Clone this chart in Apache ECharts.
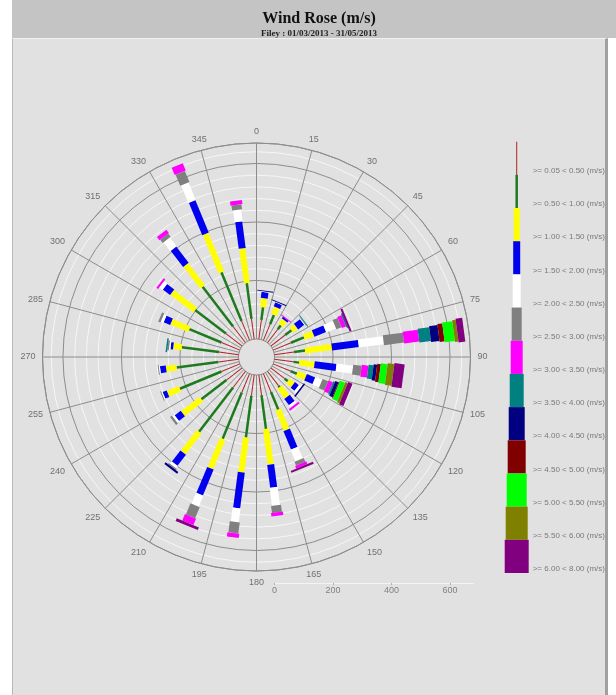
<!DOCTYPE html>
<html>
<head>
<meta charset="utf-8">
<title>Wind Rose</title>
<script src="https://cdn.jsdelivr.net/npm/echarts@6/dist/echarts.min.js"></script>
<style>
  html, body { margin: 0; padding: 0; background: #ffffff; }
  #header { position: absolute; left: 12px; top: 0; width: 604px; height: 38px; background: #c4c4c4; }
  #panel { position: absolute; left: 12px; top: 38px; width: 592px; height: 657px; background: #e1e1e1;
           border-left: 1px solid #b8b8b8; border-right: 3px solid #a0a0a0; border-top: 1px solid #f2f2f2; }
  #chart { position: absolute; left: 0; top: 0; width: 616px; height: 695px; }
</style>
</head>
<body>
<div id="header"></div>
<div id="panel"></div>
<div id="chart"></div>
<script>
// sector centres (degrees, clockwise from north)
const directions = [7.5, 22.5, 37.5, 52.5, 67.5, 82.5, 97.5, 112.5, 127.5, 142.5, 157.5, 172.5,
                    187.5, 202.5, 217.5, 232.5, 247.5, 262.5, 277.5, 292.5, 307.5, 322.5, 337.5, 352.5];

const classLabels = ['>= 0.05 < 0.50 (m/s)', '>= 0.50 < 1.00 (m/s)', '>= 1.00 < 1.50 (m/s)',
  '>= 1.50 < 2.00 (m/s)', '>= 2.00 < 2.50 (m/s)', '>= 2.50 < 3.00 (m/s)', '>= 3.00 < 3.50 (m/s)',
  '>= 3.50 < 4.00 (m/s)', '>= 4.00 < 4.50 (m/s)', '>= 4.50 < 5.00 (m/s)', '>= 5.00 < 5.50 (m/s)',
  '>= 5.50 < 6.00 (m/s)', '>= 6.00 < 8.00 (m/s)'];

// counts per sector for every speed class (same order as directions)
const v005to050 = [66, 60, 58, 62, 66, 68, 66, 64, 60, 62, 68, 70, 72, 70, 70, 68, 68, 70, 68, 68, 70, 70, 72, 70];
const v050to100 = [44, 34, 17, 27, 48, 38, 20, 24, 14, 7, 65, 116, 144, 171, 191, 108, 154, 144, 128, 119, 133, 171, 180, 123];
const v100to150 = [31, 27, 21, 20, 34, 92, 52, 32, 21, 41, 75, 123, 120, 109, 89, 80, 44, 36, 29, 66, 99, 94, 142, 120];
const v150to200 = [21, 15, 7, 26, 43, 92, 75, 31, 17, 27, 68, 79, 123, 96, 48, 26, 15, 20, 9, 24, 31, 70, 120, 92];
const v200to250 = [2, 2, 0, 3, 36, 86, 57, 25, 10, 10, 43, 62, 48, 41, 10, 8, 4, 4, 5, 10, 14, 38, 65, 41];
const v250to300 = [0, 0, 0, 2, 19, 69, 29, 21, 0, 0, 14, 24, 38, 41, 5, 8, 3, 3, 5, 8, 0, 14, 41, 17];
const v300to350 = [0, 0, 3, 0, 15, 52, 23, 16, 0, 7, 10, 12, 15, 24, 0, 0, 0, 0, 0, 0, 7, 14, 27, 14];
const v350to400 = [0, 0, 0, 3, 3, 40, 17, 6, 0, 0, 0, 0, 0, 0, 0, 0, 0, 0, 5, 0, 0, 0, 0, 0];
const v400to450 = [3, 3, 0, 0, 2, 29, 12, 12, 5, 0, 0, 0, 0, 0, 7, 0, 0, 0, 0, 0, 0, 0, 0, 0];
const v450to500 = [0, 0, 0, 0, 0, 17, 12, 3, 0, 0, 0, 0, 0, 0, 0, 0, 0, 0, 0, 0, 0, 0, 0, 0];
const v500to550 = [0, 0, 0, 0, 0, 35, 23, 18, 0, 0, 0, 0, 0, 0, 0, 0, 0, 0, 0, 0, 0, 0, 0, 0];
const v550to600 = [0, 0, 0, 0, 0, 12, 23, 9, 0, 0, 0, 0, 0, 0, 0, 0, 0, 0, 0, 0, 0, 0, 0, 0];
const v600to800 = [0, 0, 0, 0, 7, 23, 35, 16, 0, 0, 7, 0, 0, 10, 0, 0, 0, 0, 0, 0, 0, 0, 0, 0];

const classValues = [v005to050, v050to100, v100to150, v150to200, v200to250, v250to300, v300to350,
  v350to400, v400to450, v450to500, v500to550, v550to600, v600to800];

const classColors = ['#b22222', '#1f7a1f', '#ffff00', '#0000ee', '#ffffff', '#808080', '#ff00ff',
  '#008080', '#000080', '#800000', '#00ff00', '#808000', '#800080'];
const classWidths = [1, 2.5, 6, 7, 8, 10, 12, 14, 16, 18, 20, 22, 24];

const radiusMax = 670;
const ringColors = ['rgba(0,0,0,0)', '#f6f6f6', '#f6f6f6', '#f6f6f6', '#f6f6f6', '#8c8c8c',
  '#f6f6f6', '#f6f6f6', '#f6f6f6', '#f6f6f6', '#8c8c8c', '#f6f6f6', '#f6f6f6', '#f6f6f6', '#f6f6f6',
  '#8c8c8c', '#f6f6f6', '#8c8c8c'];

const chart = echarts.init(document.getElementById('chart'), null, { renderer: 'canvas' });

const roseData = directions.map((d, i) => [classValues.reduce((s, c) => s + c[i], 0), d, i]);

function renderRose(params, api) {
  const i = api.value(2);
  const ang = directions[i];
  const a = api.coord([0, ang]);
  const b = api.coord([radiusMax, ang]);
  const len = Math.hypot(b[0] - a[0], b[1] - a[1]);
  const nx = -(b[1] - a[1]) / len;
  const ny = (b[0] - a[0]) / len;
  const children = [];
  let acc = 0;
  classValues.forEach((vals, k) => {
    const v = vals[i];
    if (!v) return;
    const p0 = api.coord([acc, ang]);
    acc += v;
    const p1 = api.coord([acc, ang]);
    const h = classWidths[k] / 2;
    children.push({
      type: 'polygon',
      shape: { points: [[p0[0] + nx * h, p0[1] + ny * h], [p1[0] + nx * h, p1[1] + ny * h],
                        [p1[0] - nx * h, p1[1] - ny * h], [p0[0] - nx * h, p0[1] - ny * h]] },
      style: { fill: classColors[k] }
    });
  });
  return { type: 'group', children };
}

function renderKey(params, api) {
  const k = api.value(1);
  const c = api.coord([0, k]);
  const bh = api.size([0, 1])[1];
  const w = classWidths[k];
  return {
    type: 'group',
    children: [
      { type: 'rect', shape: { x: c[0] - w / 2, y: c[1] - bh / 2, width: w, height: bh },
        style: { fill: classColors[k] } },
      { type: 'text', x: c[0] + 16, y: c[1] + bh / 2 - 4,
        style: { text: classLabels[k], fill: '#7a7a7a', font: '8px "Liberation Sans", Arial, sans-serif',
                 verticalAlign: 'middle', align: 'left' } }
    ]
  };
}

chart.setOption({
  animation: false,
  title: {
    text: 'Wind Rose (m/s)',
    subtext: 'Filey : 01/03/2013 - 31/05/2013',
    left: 314, textAlign: 'center', top: 6, itemGap: 2,
    textStyle: { fontFamily: '"Liberation Serif", "Times New Roman", serif', fontWeight: 'bold', fontSize: 16, color: '#111' },
    subtextStyle: { fontFamily: '"Liberation Serif", "Times New Roman", serif', fontWeight: 'bold', fontSize: 9, color: '#222' }
  },
  polar: { center: [256.5, 357], radius: [18, 214] },
  angleAxis: {
    type: 'value', min: 0, max: 360, interval: 15, startAngle: 90, clockwise: true,
    axisLine: { lineStyle: { color: '#8c8c8c', width: 1 } },
    axisTick: { show: false },
    axisLabel: { color: '#707070', fontSize: 9, margin: 7, fontFamily: '"Liberation Sans", Arial, sans-serif' },
    splitLine: { lineStyle: { color: '#8c8c8c', width: 1 } }
  },
  radiusAxis: {
    type: 'value', min: 0, max: radiusMax, interval: 40,
    axisLine: { show: false }, axisTick: { show: false }, axisLabel: { show: false },
    splitLine: { lineStyle: { color: ringColors, width: 1 } }
  },
  grid: [
    { left: 504.2, width: 25, top: 141.7, height: 431.3 },
    { left: 274.5, width: 198.9, top: 582, height: 1 }
  ],
  xAxis: [
    { gridIndex: 0, type: 'value', min: -13, max: 13, show: false },
    { gridIndex: 1, type: 'value', min: 0, max: 680, interval: 200, position: 'bottom',
      axisLine: { lineStyle: { color: '#f4f4f4' } },
      axisTick: { show: true, length: 2, lineStyle: { color: '#b0b0b0' } },
      axisLabel: { color: '#808080', fontSize: 9, margin: 3, showMaxLabel: false,
                   fontFamily: '"Liberation Sans", Arial, sans-serif' },
      splitLine: { show: false } }
  ],
  yAxis: [
    { gridIndex: 0, type: 'category', data: classLabels, inverse: true, show: false },
    { gridIndex: 1, type: 'value', show: false }
  ],
  series: [
    {
      type: 'custom', coordinateSystem: 'polar', renderItem: renderRose,
      dimensions: ['radius', 'angle', 'idx'], encode: { radius: 0, angle: 1 },
      data: roseData, silent: true
    },
    {
      type: 'custom', coordinateSystem: 'cartesian2d', xAxisIndex: 0, yAxisIndex: 0,
      renderItem: renderKey, encode: { x: 0, y: 1 },
      data: classLabels.map((l, k) => [0, k]), silent: true
    }
  ]
});
</script>
</body>
</html>
